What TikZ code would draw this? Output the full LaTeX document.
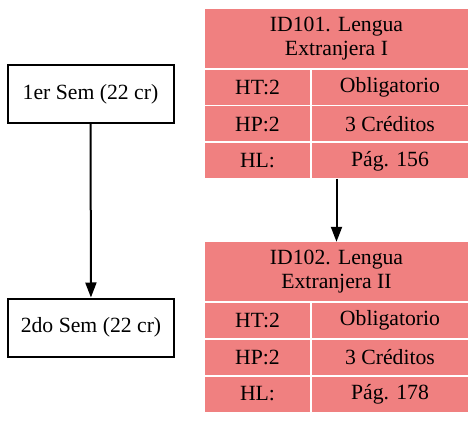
\documentclass[tikz,border=0pt]{standalone}
\usepackage{fontspec}
\setmainfont{Liberation Serif}
\usetikzlibrary{arrows.meta,positioning}
\definecolor{lightcoral}{RGB}{240,128,128}

\begin{document}
\begin{tikzpicture}[x=1pt,y=-1pt,
every node/.style={font=\fontsize{21.7}{24}\selectfont},
sem/.style={draw,line width=2pt,minimum width=166pt,minimum height=58pt,inner sep=0pt},
cell/.style={fill=lightcoral,inner sep=0pt,minimum height=35pt},
head/.style={cell,minimum width=263pt,minimum height=59pt,align=center},
lcell/.style={cell,minimum width=105pt},
rcell/.style={cell,minimum width=156pt},
edge/.style={line width=2pt,-{Triangle[length=15pt,width=11pt]}}]
\useasboundingbox (0,0) rectangle (476,422);
% semesters
\node[sem] (S1) at (90.5,94) {1er Sem (22 cr)};
\node[sem] (S2) at (91,327.5) {2do Sem (22 cr)};
% ID101
\node[head] (ID101) at (336.5,38.5) {ID101. Lengua\\Extranjera I};
\node[lcell] (HT101) at (257.5,87.5) {HT:2};
\node[rcell] (OB101) at (390,87.5) {Obligatorio};
\node[lcell] (HP101) at (257.5,124) {HP:2};
\node[rcell] (CR101) at (390,124) {3 Créditos};
\node[lcell] (HL101) at (257.5,161) {HL:};
\node[rcell] (PG101) at (390,161) {Pág. 156};
% ID102
\node[head] (ID102) at (336.5,271.5) {ID102. Lengua\\Extranjera II};
\node[lcell] (HT102) at (257.5,320.5) {HT:2};
\node[rcell] (OB102) at (390,320.5) {Obligatorio};
\node[lcell] (HP102) at (257.5,357) {HP:2};
\node[rcell] (CR102) at (390,357) {3 Créditos};
\node[lcell] (HL102) at (257.5,394) {HL:};
\node[rcell] (PG102) at (390,394) {Pág. 178};
% edges
\draw[edge] (S1) -- (S2);
\draw[edge] (HL101.south -| ID101.south) -- (ID102.north);
\end{tikzpicture}
\end{document}
